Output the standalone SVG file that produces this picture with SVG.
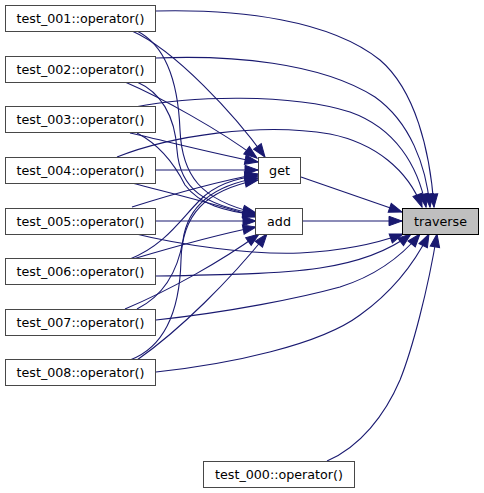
<svg xmlns="http://www.w3.org/2000/svg" width="484" height="493" viewBox="0 0 484 493">
<style>
.node rect{fill:#ffffff;stroke:#484848;stroke-width:1}
.node.sel rect{fill:#bfbfbf;stroke:#000000}
.node text{font-family:"DejaVu Sans","Liberation Sans",sans-serif;font-size:12.7px;fill:#000000;text-anchor:middle}
.edges path{fill:none;stroke:#191970;stroke-width:1.1;marker-end:url(#arr)}
</style>
<defs>
<marker id="arr" markerUnits="userSpaceOnUse" markerWidth="15" markerHeight="11" refX="13" refY="4.7" orient="auto" overflow="visible">
<path d="M0,0 L13,4.7 L0,9.4 z" fill="#191970" stroke="#191970" stroke-width="1"/>
</marker>
</defs>
<rect width="484" height="493" fill="#ffffff"/>
<g class="edges" id="edges">
<path d="M156,11 C240,9 330,20 380,60 C415,90 430,150 434,207"/>
<path d="M156,58 C230,55 320,62 375,97 C410,122 426,165 430,207"/>
<path d="M135,107 C190,96 290,93 350,112 C395,128 418,165 426,207"/>
<path d="M117,157 C170,136 260,122 330,134 C375,143 408,170 422,207"/>
<path d="M301,177 L402,212"/>
<path d="M303,221 L402,221"/>
<path d="M132,233 C180,245 250,255 300,253 C340,251 375,244 403,234"/>
<path d="M156,276 C220,275 280,274 320,268 C360,262 390,250 411,234"/>
<path d="M156,320 C230,312 300,298 340,287 C375,276 400,258 420,234"/>
<path d="M156,372 C230,364 320,345 360,315 C395,290 415,262 429,234"/>
<path d="M327,461 C360,447 385,415 400,380 C412,350 428,290 437,234"/>
<path d="M132,31 C175,50 235,115 265,157"/>
<path d="M125,82 C160,97 220,130 257,158"/>
<path d="M130,133 C170,142 220,155 258,162"/>
<path d="M156,170 L258,170"/>
<path d="M132,207 C170,195 215,182 258,174"/>
<path d="M130,259 C165,245 180,220 200,200 C215,185 235,178 258,176"/>
<path d="M137,309 C165,295 178,270 183,240 C188,205 215,185 258,178"/>
<path d="M130,360 C170,345 180,300 181,260 C182,215 205,190 258,180"/>
<path d="M137,31 C165,45 178,80 180,130 C182,175 200,200 256,213"/>
<path d="M137,82 C160,92 175,115 177,150 C180,190 205,205 256,214"/>
<path d="M137,133 C160,145 175,165 185,185 C200,205 225,211 256,215"/>
<path d="M132,183 C170,193 220,205 256,217"/>
<path d="M156,221 L256,221"/>
<path d="M133,259 C170,248 215,235 256,227"/>
<path d="M125,309 C170,290 220,262 259,234"/>
<path d="M137,360 C180,330 230,280 267,234"/>
</g>
<g class="node" id="test_001"><rect x="5.5" y="5.5" width="150" height="26"/><text x="80.5" y="22.5">test_001::operator()</text></g>
<g class="node" id="test_002"><rect x="5.5" y="56.5" width="150" height="26"/><text x="80.5" y="73.5">test_002::operator()</text></g>
<g class="node" id="test_003"><rect x="5.5" y="106.5" width="150" height="26"/><text x="80.5" y="123.5">test_003::operator()</text></g>
<g class="node" id="test_004"><rect x="5.5" y="157.5" width="150" height="26"/><text x="80.5" y="174.5">test_004::operator()</text></g>
<g class="node" id="test_005"><rect x="5.5" y="208.5" width="150" height="26"/><text x="80.5" y="225.5">test_005::operator()</text></g>
<g class="node" id="test_006"><rect x="5.5" y="258.5" width="150" height="26"/><text x="80.5" y="275.5">test_006::operator()</text></g>
<g class="node" id="test_007"><rect x="5.5" y="309.5" width="150" height="26"/><text x="80.5" y="326.5">test_007::operator()</text></g>
<g class="node" id="test_008"><rect x="5.5" y="359.5" width="150" height="26"/><text x="80.5" y="376.5">test_008::operator()</text></g>
<g class="node" id="test_000"><rect x="203.5" y="461.5" width="151" height="26"/><text x="279" y="478.5">test_000::operator()</text></g>
<g class="node" id="get"><rect x="258.5" y="157.5" width="42" height="26"/><text x="279.5" y="174.5">get</text></g>
<g class="node" id="add"><rect x="255.5" y="208.5" width="47" height="26"/><text x="279" y="225.5">add</text></g>
<g class="node sel" id="traverse"><rect x="402.5" y="208.5" width="76" height="26"/><text x="440.5" y="225.5">traverse</text></g>
</svg>
